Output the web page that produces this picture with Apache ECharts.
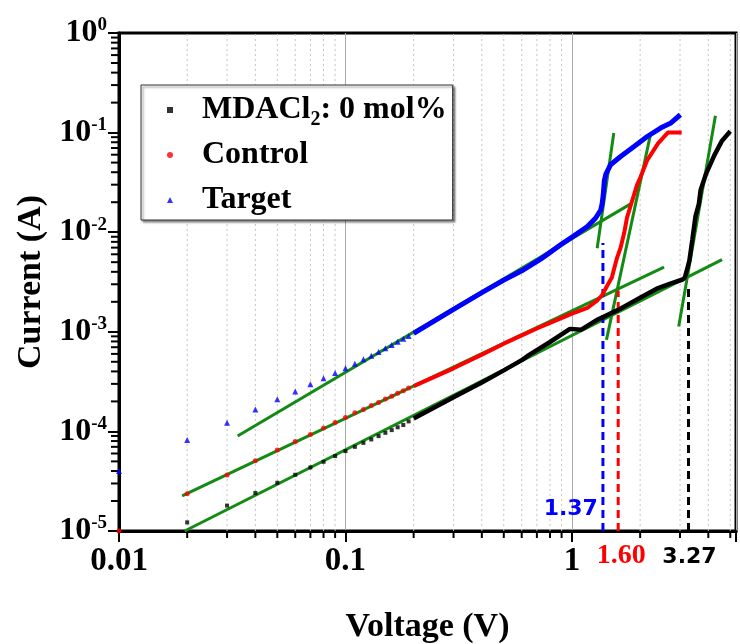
<!DOCTYPE html>
<html><head><meta charset="utf-8">
<script src="https://cdn.jsdelivr.net/npm/echarts@6/dist/echarts.min.js"></script>
<style>html,body{margin:0;padding:0;background:#fff}#c{width:740px;height:644px}</style>
</head><body><div id="c"></div>
<script>
// ---------- axis ranges & ticks ----------
const xMin = 0.01, xMax = 5.3, yMin = 1e-5, yMax = 1;
const xTickLabels = ['0.01', '0.1', '1'];
const xMinorTicks = [0.02,0.03,0.04,0.05,0.06,0.07,0.08,0.09,0.2,0.3,0.4,0.5,0.6,0.7,0.8,0.9,2,3,4,5];
const yMinorMantissa = [2,3,4,5,6,7,8,9];
const yDecades = [-5,-4,-3,-2,-1];
const yMinorTicks = [];
yDecades.forEach(d => yMinorMantissa.forEach(m => yMinorTicks.push(m * Math.pow(10, d))));

// ---------- series names ----------
const seriesNames = ['MDACl2: 0 mol%', 'Control', 'Target'];

// ---------- low-voltage discrete points ----------
const lowV      = [0.01,0.02,0.03,0.04,0.05,0.06,0.07,0.08,0.09,0.10,0.11,0.12,0.13,0.14,0.15,0.16,0.17,0.18,0.19];
const blackLowI = [null,1.22e-5,1.8e-5,2.41e-5,3.05e-5,3.67e-5,4.35e-5,4.95e-5,5.65e-5,6.34e-5,7.0e-5,7.67e-5,8.3e-5,8.97e-5,9.68e-5,1.03e-4,1.10e-4,1.16e-4,1.26e-4];
const redLowI   = [1.0e-5,2.36e-5,3.64e-5,5.07e-5,6.49e-5,7.94e-5,9.33e-5,1.08e-4,1.23e-4,1.38e-4,1.54e-4,1.66e-4,1.82e-4,1.95e-4,2.11e-4,2.26e-4,2.41e-4,2.56e-4,2.72e-4];
const blueLowI  = [4.0e-5,8.18e-5,1.22e-4,1.66e-4,2.1e-4,2.52e-4,2.97e-4,3.41e-4,3.86e-4,4.3e-4,4.78e-4,5.29e-4,5.75e-4,6.27e-4,6.83e-4,7.37e-4,7.96e-4,8.5e-4,9.1e-4];

// ---------- dense (continuous) parts ----------
const blackCurveV = [0.2,0.3,0.4,0.5,0.6,0.65,0.8,0.98,1.1,1.3,1.6,2.0,2.4,2.72,3.08,3.15,3.23,3.3,3.4,3.51,3.63,3.7,3.9,4.25,4.6,5.0];
const blackCurveI = [1.35e-4,2.2e-4,3.1e-4,4.1e-4,5.2e-4,5.9e-4,7.9e-4,1.07e-3,1.05e-3,1.33e-3,1.66e-3,2.2e-3,2.75e-3,3.05e-3,3.35e-3,3.5e-3,4.3e-3,5.2e-3,8.4e-3,1.44e-2,1.9e-2,2.66e-2,3.8e-2,5.9e-2,8.3e-2,0.103];
const redCurveV = [0.2,0.3,0.4,0.5,0.6,0.7,0.85,1.0,1.17,1.29,1.36,1.43,1.5,1.58,1.64,1.70,1.75,1.81,1.94,2.0,2.15,2.4,2.65,3.05];
const redCurveI = [2.85e-4,4.3e-4,5.9e-4,7.6e-4,9.2e-4,1.08e-3,1.3e-3,1.52e-3,1.74e-3,2.05e-3,2.34e-3,2.9e-3,3.5e-3,5.5e-3,7.0e-3,9.8e-3,1.4e-2,1.8e-2,3.0e-2,3.5e-2,5.3e-2,7.8e-2,0.1,0.1];
const blueCurveV = [0.2,0.3,0.4,0.5,0.6,0.73,0.89,1.02,1.17,1.27,1.34,1.36,1.375,1.39,1.41,1.48,1.64,1.88,2.15,2.46,2.72,3.01];
const blueCurveI = [9.66e-4,1.68e-3,2.47e-3,3.3e-3,4.1e-3,5.4e-3,7.46e-3,9.18e-3,1.14e-2,1.38e-2,1.67e-2,1.95e-2,2.4e-2,3.3e-2,3.8e-2,4.75e-2,5.76e-2,7.26e-2,9.14e-2,0.111,0.124,0.151];

// ---------- green fitted lines (start V, start I, end V, end I) ----------
const fitBlackOhm = [0.0195, 1.0e-5, 4.6, 5.3e-3];
const fitRedOhm   = [0.019, 2.25e-5, 2.55, 4.45e-3];
const fitBlueOhm  = [0.0334, 9.0e-5, 1.84, 1.96e-2];
const fitBlueTFL  = [1.292, 6.9e-3, 1.53, 9.9e-2];
const fitRedTFL   = [1.42, 8.3e-4, 2.22, 9.5e-2];
const fitBlackTFL = [2.96, 1.13e-3, 4.3, 0.148];

// ---------- threshold (V_TFL) markers ----------
const thresholdV = [1.37, 1.60, 3.27];
const thresholdTopI = [7.8e-3, 2.6e-3, 3.0e-3];
const thresholdLabels = ['1.37', '1.60', '3.27'];

const cBlack = '#000000', cRed = '#ff0000', cBlue = '#0000ff', cGreen = '#138a13';
const serif = '"Liberation Serif", "Times New Roman", serif';
const sans = '"DejaVu Sans", Verdana, sans-serif';

function zip(a, b) { const r = []; for (let i = 0; i < a.length; i++) if (b[i] != null) r.push([a[i], b[i]]); return r; }
function fitSeries(f) {
  return { type: 'line', data: [[f[0], f[1]], [f[2], f[3]]], showSymbol: false, symbol: 'none',
    lineStyle: { color: cGreen, width: 3 }, z: 3, silent: true };
}
const dashColors = [cBlue, cRed, cBlack];
const dashLabelCfg = [
  { position: 'left', distance: 5, offset: [0, -22], fontFamily: sans, fontSize: 22 },
  { position: 'bottom', distance: 11, offset: [3, 0], fontFamily: serif, fontSize: 28 },
  { position: 'bottom', distance: 15, offset: [1, 0], fontFamily: sans, fontSize: 22 }
];
function dashSeries(i) {
  const lc = dashLabelCfg[i];
  return { type: 'line', symbol: 'circle', symbolSize: 0.01, showSymbol: true,
    lineStyle: { color: dashColors[i], width: 3, type: [8, 5] }, z: 4, silent: true,
    data: [
      { value: [thresholdV[i], yMin], label: { show: true, formatter: thresholdLabels[i], position: lc.position,
        distance: lc.distance, offset: lc.offset, color: dashColors[i], fontFamily: lc.fontFamily,
        fontWeight: 'bold', fontSize: lc.fontSize } },
      [thresholdV[i], thresholdTopI[i]]
    ] };
}

function isPow10(v) { const l = Math.log10(v); return Math.abs(l - Math.round(l)) < 1e-6; }

const option = {
  animation: false,
  backgroundColor: '#fff',
  grid: { left: 119, right: 4, top: 33, bottom: 113, containLabel: false, outerBoundsMode: 'none',
    show: true, borderColor: '#000', borderWidth: 3, backgroundColor: 'transparent' },
  xAxis: {
    type: 'log', logBase: 10, min: xMin, max: xMax, splitNumber: 5,
    name: 'Voltage (V)', nameLocation: 'middle', nameGap: 79,
    nameTextStyle: { fontFamily: serif, fontWeight: 'bold', fontSize: 34, color: '#000' },
    axisLine: { show: true, lineStyle: { color: '#000', width: 3 } },
    axisTick: { show: true, inside: false, length: 11, lineStyle: { color: '#000', width: 2 } },
    axisLabel: { margin: 14, fontFamily: serif, fontWeight: 'bold', fontSize: 33, color: '#000',
      formatter: v => isPow10(v) ? (xTickLabels[Math.round(Math.log10(v)) + 2] || '') : '' },
    splitLine: { show: true, lineStyle: { color: '#aaaaaa', width: 1 } }
  },
  yAxis: {
    type: 'log', logBase: 10, min: yMin, max: yMax, splitNumber: 5,
    name: 'Current (A)', nameLocation: 'middle', nameGap: 70,
    nameTextStyle: { fontFamily: serif, fontWeight: 'bold', fontSize: 34, color: '#000' },
    axisLine: { show: true, lineStyle: { color: '#000', width: 3 } },
    axisTick: { show: true, inside: false, length: 11, lineStyle: { color: '#000', width: 2 } },
    axisLabel: { margin: 12, color: '#000',
      formatter: v => isPow10(v) ? '{b|10}{s|' + Math.round(Math.log10(v)) + '}' : '',
      rich: {
        b: { fontFamily: serif, fontWeight: 'bold', fontSize: 32, lineHeight: 34, color: '#000' },
        s: { fontFamily: serif, fontWeight: 'bold', fontSize: 19, lineHeight: 14, verticalAlign: 'top', color: '#000' }
      } },
    splitLine: { show: false }
  },
  legend: {
    data: seriesNames, orient: 'vertical', left: 141, top: 85,
    padding: [5, 6, 0, 26], itemGap: 5, itemWidth: 6, itemHeight: 6,
    backgroundColor: '#fff', borderColor: '#333', borderWidth: 1,
    shadowColor: 'rgba(0,0,0,0.45)', shadowBlur: 2, shadowOffsetX: 2, shadowOffsetY: 2,
    formatter: name => name === seriesNames[0] ? '{n|MDACl}{s|2}{n|: 0 mol%}' : '{n|' + name + '}',
    textStyle: { padding: [0, 0, 0, 24], lineHeight: 40,
      rich: {
        n: { fontFamily: serif, fontWeight: 'bold', fontSize: 32, lineHeight: 40, color: '#000' },
        s: { fontFamily: serif, fontWeight: 'bold', fontSize: 20, lineHeight: 20, verticalAlign: 'bottom', color: '#000' }
      } }
  },
  series: [
    { type: 'custom', z: 1, silent: true, clip: false, data: xMinorTicks.map(v => [v, yMin]),
      renderItem: (params, api) => {
        const v = api.value(0);
        const p0 = api.coord([v, yMin]), p1 = api.coord([v, yMax]);
        return { type: 'group', children: [
          { type: 'line', shape: { x1: p0[0], y1: p0[1], x2: p1[0], y2: p1[1] }, style: { stroke: '#c4c4c4', lineWidth: 1, lineDash: [2, 3] } },
          { type: 'line', shape: { x1: p0[0], y1: p0[1], x2: p0[0], y2: p0[1] + 7 }, style: { stroke: '#000', lineWidth: 2 } }
        ] };
      } },
    { type: 'custom', z: 1, silent: true, clip: false, data: yMinorTicks.map(v => [xMin, v]),
      renderItem: (params, api) => {
        const p = api.coord([xMin, api.value(1)]);
        return { type: 'line', shape: { x1: p[0] - 8, y1: p[1], x2: p[0], y2: p[1] }, style: { stroke: '#000', lineWidth: 2 } };
      } },
    fitSeries(fitBlackOhm), fitSeries(fitRedOhm), fitSeries(fitBlueOhm),
    fitSeries(fitBlueTFL), fitSeries(fitRedTFL), fitSeries(fitBlackTFL),
    { name: seriesNames[0], type: 'scatter', symbol: 'rect', symbolSize: 4, itemStyle: { color: cBlack }, z: 5, data: zip(lowV, blackLowI) },
    { name: seriesNames[1], type: 'scatter', symbol: 'circle', symbolSize: 5, itemStyle: { color: cRed }, z: 5, data: zip(lowV, redLowI) },
    { name: seriesNames[2], type: 'scatter', symbol: 'triangle', symbolSize: 6, itemStyle: { color: cBlue }, z: 5, data: zip(lowV, blueLowI) },
    { name: 'blackCurve', type: 'line', showSymbol: false, symbol: 'none', lineStyle: { color: cBlack, width: 4.5 }, z: 5, data: zip(blackCurveV, blackCurveI) },
    { name: 'redCurve', type: 'line', showSymbol: false, symbol: 'none', lineStyle: { color: cRed, width: 4 }, z: 5, data: zip(redCurveV, redCurveI) },
    { name: 'blueCurve', type: 'line', showSymbol: false, symbol: 'none', lineStyle: { color: cBlue, width: 5 }, z: 5, data: zip(blueCurveV, blueCurveI) },
    dashSeries(0), dashSeries(1), dashSeries(2)
  ]
};
const chart = echarts.init(document.getElementById('c'), null, { renderer: 'canvas' });
chart.setOption(option);
</script></body></html>
